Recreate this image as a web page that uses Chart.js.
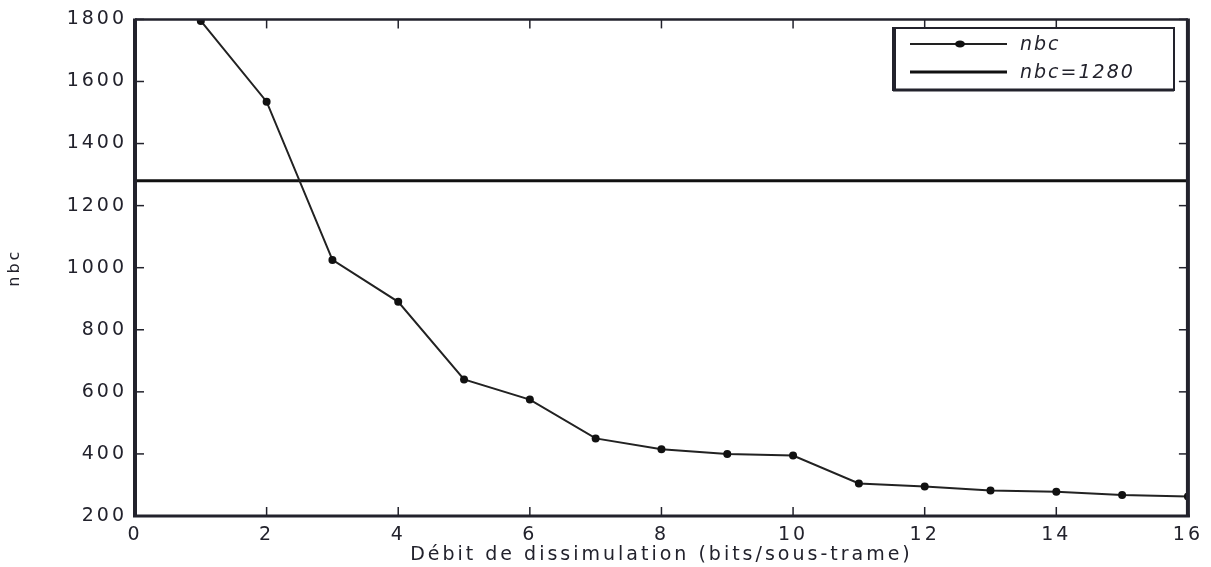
<!DOCTYPE html>
<html>
<head>
<meta charset="utf-8">
<script src="https://cdn.jsdelivr.net/npm/chart.js@4.4.1/dist/chart.umd.min.js"></script>
<style>
html,body{margin:0;padding:0;background:#fff;}
#wrap{width:1211px;height:567px;position:relative;}
</style>
</head>
<body>
<div id="wrap"><canvas id="c" width="1211" height="567"></canvas></div>
<script>
// ---- data ----
const debit = [1, 2, 3, 4, 5, 6, 7, 8, 9, 10, 11, 12, 13, 14, 15, 16];
const nbcValues = [1795, 1535, 1025, 890, 640, 575, 450, 415, 400, 395, 305, 295, 282, 278, 268, 263];
const thresholdValue = 1280;
const thresholdRange = [0, 16];
const xTicks = [0, 2, 4, 6, 8, 10, 12, 14, 16];
const yTicks = [200, 400, 600, 800, 1000, 1200, 1400, 1600, 1800];
const seriesLabels = ['nbc', 'nbc=1280'];
const xTitle = 'Débit de dissimulation (bits/sous-trame)';
const yTitle = 'nbc';

const INK = '#22222c';
const FONT = "'DejaVu Sans', sans-serif";
const SPACING = '3px';

const spacingPlugin = {
  id: 'spacing',
  beforeUpdate(chart) { chart.ctx.letterSpacing = SPACING; },
  beforeDraw(chart) { chart.ctx.letterSpacing = SPACING; }
};

const framePlugin = {
  id: 'frame',
  afterDraw(chart) {
    const ctx = chart.ctx;
    const a = chart.chartArea;
    const xs = chart.scales.x, ys = chart.scales.y;
    ctx.save();
    ctx.strokeStyle = INK;
    ctx.lineCap = 'butt';
    // inward ticks
    ctx.lineWidth = 1.5;
    const tl = 9;
    xTicks.forEach(v => {
      const px = xs.getPixelForValue(v);
      ctx.beginPath(); ctx.moveTo(px, a.bottom); ctx.lineTo(px, a.bottom - tl); ctx.stroke();
      ctx.beginPath(); ctx.moveTo(px, a.top); ctx.lineTo(px, a.top + tl); ctx.stroke();
    });
    yTicks.forEach(v => {
      const py = ys.getPixelForValue(v);
      ctx.beginPath(); ctx.moveTo(a.left, py); ctx.lineTo(a.left + tl, py); ctx.stroke();
      ctx.beginPath(); ctx.moveTo(a.right, py); ctx.lineTo(a.right - tl, py); ctx.stroke();
    });
    // frame
    ctx.lineWidth = 2.5;
    ctx.beginPath(); ctx.moveTo(a.left, a.top); ctx.lineTo(a.right, a.top); ctx.stroke();
    ctx.lineWidth = 3;
    ctx.beginPath(); ctx.moveTo(a.left - 2, a.bottom); ctx.lineTo(a.right + 2, a.bottom); ctx.stroke();
    ctx.lineWidth = 4;
    ctx.beginPath(); ctx.moveTo(a.left, a.top - 1); ctx.lineTo(a.left, a.bottom + 1); ctx.stroke();
    ctx.beginPath(); ctx.moveTo(a.right, a.top - 1); ctx.lineTo(a.right, a.bottom + 1); ctx.stroke();

    // legend box
    const bx = 893, by = 28, bw = 281, bh = 62;
    ctx.fillStyle = '#fff';
    ctx.fillRect(bx, by, bw, bh);
    ctx.lineWidth = 2;
    ctx.strokeRect(bx, by, bw, bh);
    ctx.lineWidth = 4;
    ctx.beginPath(); ctx.moveTo(bx + 1, by); ctx.lineTo(bx + 1, by + bh + 1); ctx.stroke();
    ctx.lineWidth = 3;
    ctx.beginPath(); ctx.moveTo(bx, by + bh); ctx.lineTo(bx + bw, by + bh); ctx.stroke();

    const rows = [by + 16, by + 44];
    chart.data.datasets.forEach((ds, i) => {
      const y = rows[i];
      ctx.strokeStyle = ds.borderColor;
      ctx.lineWidth = ds.borderWidth;
      ctx.beginPath(); ctx.moveTo(910, y); ctx.lineTo(1007, y); ctx.stroke();
      if (ds.pointRadius > 0) {
        ctx.fillStyle = ds.pointBackgroundColor;
        ctx.beginPath(); ctx.ellipse(960, y, 5, 3.5, 0, 0, Math.PI * 2); ctx.fill();
      }
      ctx.fillStyle = INK;
      ctx.font = "italic 19px " + FONT;
      ctx.letterSpacing = '2px';
      ctx.textBaseline = 'middle';
      ctx.textAlign = 'left';
      ctx.fillText(ds.label, 1020, y + 1);
    });
    ctx.restore();
  }
};

const plain = v => String(v);

const ctx = document.getElementById('c').getContext('2d');
new Chart(ctx, {
  type: 'line',
  data: {
    datasets: [
      {
        label: seriesLabels[0],
        data: debit.map((x, i) => ({ x: x, y: nbcValues[i] })),
        borderColor: '#222',
        borderWidth: 2,
        pointRadius: 4,
        pointHoverRadius: 4,
        pointBackgroundColor: '#111',
        pointBorderColor: '#111',
        pointBorderWidth: 0,
        tension: 0
      },
      {
        label: seriesLabels[1],
        data: thresholdRange.map(x => ({ x: x, y: thresholdValue })),
        borderColor: '#111',
        borderWidth: 3,
        pointRadius: 0,
        tension: 0
      }
    ]
  },
  options: {
    responsive: false,
    animation: false,
    layout: { padding: { top: 19, right: 23, left: 0, bottom: 0 } },
    plugins: {
      legend: { display: false },
      tooltip: { enabled: false }
    },
    scales: {
      x: {
        type: 'linear',
        min: 0, max: 16,
        afterBuildTicks: s => { s.ticks = xTicks.map(v => ({ value: v })); },
        afterFit: s => { s.height = 51; },
        grid: { display: false, drawTicks: false },
        border: { display: false },
        ticks: { color: INK, font: { family: FONT, size: 19 }, padding: 8, maxRotation: 0, callback: plain },
        title: { display: true, text: xTitle, color: INK, font: { family: FONT, size: 19 }, padding: { top: 0, bottom: 1 } }
      },
      y: {
        type: 'linear',
        min: 200, max: 1800,
        afterBuildTicks: s => { s.ticks = yTicks.map(v => ({ value: v })); },
        afterFit: s => { s.width = 135; },
        grid: { display: false, drawTicks: false },
        border: { display: false },
        ticks: { color: INK, font: { family: FONT, size: 19 }, padding: 8, callback: plain },
        title: { display: true, text: yTitle, color: INK, font: { family: FONT, size: 16 }, padding: { top: 5, bottom: 0 } }
      }
    }
  },
  plugins: [spacingPlugin, framePlugin]
});
</script>
</body>
</html>
